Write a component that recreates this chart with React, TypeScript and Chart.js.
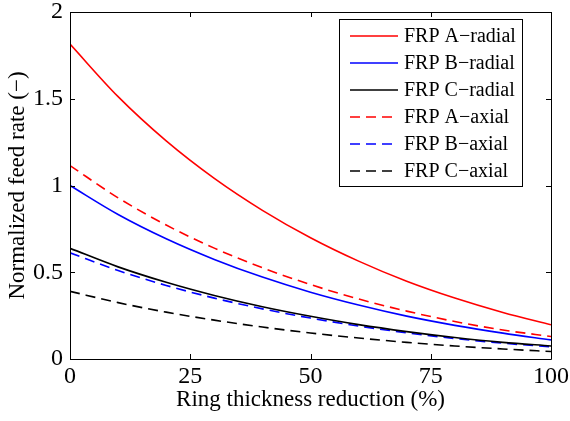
import React, { useEffect, useRef } from "react";
import { Chart, registerables } from "chart.js";

Chart.register(...registerables);

// ---- data ----
const reduction = [0, 10, 20, 30, 40, 50, 60, 70, 80, 90, 100];
const frpARadial = [1.815, 1.512, 1.257, 1.041, 0.857, 0.699, 0.564, 0.448, 0.351, 0.268, 0.197];
const frpBRadial = [1.0, 0.833, 0.693, 0.574, 0.472, 0.385, 0.311, 0.247, 0.194, 0.149, 0.11];
const frpCRadial = [0.638, 0.531, 0.442, 0.366, 0.301, 0.246, 0.198, 0.158, 0.124, 0.096, 0.075];
const frpAAxial = [1.115, 0.929, 0.772, 0.639, 0.526, 0.429, 0.346, 0.276, 0.216, 0.167, 0.13];
const frpBAxial = [0.612, 0.51, 0.424, 0.351, 0.289, 0.236, 0.19, 0.151, 0.118, 0.091, 0.07];
const frpCAxial = [0.39, 0.325, 0.27, 0.224, 0.184, 0.15, 0.121, 0.096, 0.075, 0.058, 0.043];

const seriesLabels = [
  "FRP A\u2212radial",
  "FRP B\u2212radial",
  "FRP C\u2212radial",
  "FRP A\u2212axial",
  "FRP B\u2212axial",
  "FRP C\u2212axial",
];
const xTickValues = [0, 25, 50, 75, 100];
const yTickValues = [0, 0.5, 1, 1.5, 2];
const yTickLabels = ["0", "0.5", "1", "1.5", "2"];
const xTitle = "Ring thickness reduction (%)";
const yTitle = "Normalized feed rate (\u2212)";

const FONT = '"Liberation Serif", "Times New Roman", serif';
const DASH = [10, 6];

const framePlugin = {
  id: "frameTicks",
  afterDraw(chart: any) {
    const ctx = chart.ctx;
    const { left, right, top, bottom } = chart.chartArea;
    const xs = chart.scales.x;
    const ys = chart.scales.y;
    const tl = 5;
    ctx.save();
    ctx.strokeStyle = "#000";
    ctx.lineWidth = 1;
    ctx.beginPath();
    ctx.rect(Math.round(left) + 0.5, Math.round(top) + 0.5, Math.round(right - left), Math.round(bottom - top));
    ctx.stroke();
    ctx.beginPath();
    xTickValues.forEach((v) => {
      const px = Math.round(xs.getPixelForValue(v)) + 0.5;
      ctx.moveTo(px, bottom);
      ctx.lineTo(px, bottom - tl);
      ctx.moveTo(px, top);
      ctx.lineTo(px, top + tl);
    });
    yTickValues.forEach((v) => {
      const py = Math.round(ys.getPixelForValue(v)) + 0.5;
      ctx.moveTo(left, py);
      ctx.lineTo(left + tl, py);
      ctx.moveTo(right, py);
      ctx.lineTo(right - tl, py);
    });
    ctx.stroke();
    ctx.restore();
  },
};

const legendPlugin = {
  id: "boxLegend",
  afterDraw(chart: any) {
    const ctx = chart.ctx;
    const { right, top } = chart.chartArea;
    const boxRight = right - 29;
    const boxLeft = boxRight - 183;
    const boxTop = top + 7;
    const rowH = 27;
    const n = chart.data.datasets.length;
    const boxH = 5 + rowH * n;
    ctx.save();
    ctx.fillStyle = "#fff";
    ctx.fillRect(boxLeft, boxTop, boxRight - boxLeft, boxH);
    ctx.strokeStyle = "#000";
    ctx.lineWidth = 1;
    ctx.strokeRect(Math.round(boxLeft) + 0.5, Math.round(boxTop) + 0.5, Math.round(boxRight - boxLeft), Math.round(boxH));
    ctx.font = `20px ${FONT}`;
    ctx.textBaseline = "middle";
    ctx.textAlign = "left";
    chart.data.datasets.forEach((ds: any, i: number) => {
      const y = boxTop + 17 + i * rowH;
      ctx.strokeStyle = ds.borderColor;
      ctx.lineWidth = ds.borderWidth;
      ctx.setLineDash(ds.borderDash || []);
      ctx.beginPath();
      ctx.moveTo(boxLeft + 11, y);
      ctx.lineTo(boxLeft + 59, y);
      ctx.stroke();
      ctx.setLineDash([]);
      ctx.fillStyle = "#000";
      ctx.fillText(ds.label, boxLeft + 65, y + 1);
    });
    ctx.restore();
  },
};

export default function App() {
  const ref = useRef<HTMLCanvasElement | null>(null);

  useEffect(() => {
    if (!ref.current) return;
    const mk = (label: string, values: number[], color: string, dashed: boolean) => ({
      label,
      data: reduction.map((x, i) => ({ x, y: values[i] })),
      borderColor: color,
      backgroundColor: color,
      borderWidth: 1.6,
      borderDash: dashed ? DASH : [],
      pointRadius: 0,
      cubicInterpolationMode: "monotone" as const,
      fill: false,
    });
    const chart = new Chart(ref.current, {
      type: "line",
      data: {
        datasets: [
          mk(seriesLabels[0], frpARadial, "#ff0000", false),
          mk(seriesLabels[1], frpBRadial, "#0000ff", false),
          mk(seriesLabels[2], frpCRadial, "#000000", false),
          mk(seriesLabels[3], frpAAxial, "#ff0000", true),
          mk(seriesLabels[4], frpBAxial, "#0000ff", true),
          mk(seriesLabels[5], frpCAxial, "#000000", true),
        ],
      },
      options: {
        responsive: false,
        animation: false,
        devicePixelRatio: 1,
        layout: { padding: { left: 0, top: 12, right: 19, bottom: 0 } },
        plugins: { legend: { display: false }, tooltip: { enabled: false } },
        scales: {
          x: {
            type: "linear",
            min: 0,
            max: 100,
            afterBuildTicks: (s: any) => {
              s.ticks = xTickValues.map((v) => ({ value: v }));
            },
            afterFit: (s: any) => {
              s.height = 62;
              s.paddingLeft = 0;
              s.paddingRight = 0;
            },
            ticks: {
              color: "#000",
              font: { family: FONT, size: 24 },
              padding: 3,
              maxRotation: 0,
              autoSkip: false,
            },
            grid: { display: false, drawTicks: false },
            border: { display: false },
            title: {
              display: true,
              text: xTitle,
              color: "#000",
              font: { family: FONT, size: 23 },
              padding: { top: 0, bottom: 7 },
            },
          },
          y: {
            type: "linear",
            min: 0,
            max: 2,
            afterBuildTicks: (s: any) => {
              s.ticks = yTickValues.map((v) => ({ value: v }));
            },
            afterFit: (s: any) => {
              s.width = 70;
              s.paddingTop = 0;
              s.paddingBottom = 0;
            },
            ticks: {
              color: "#000",
              font: { family: FONT, size: 24 },
              padding: 7,
              autoSkip: false,
              callback: (v: any) => {
                const i = yTickValues.indexOf(Number(v));
                return i >= 0 ? yTickLabels[i] : "";
              },
            },
            grid: { display: false, drawTicks: false },
            border: { display: false },
            title: {
              display: true,
              text: yTitle,
              color: "#000",
              font: { family: FONT, size: 23 },
              padding: { top: 4, bottom: 0 },
            },
          },
        },
      },
      plugins: [framePlugin, legendPlugin],
    });
    return () => chart.destroy();
  }, []);

  return (
    <div style={{ position: "absolute", left: 0, top: 0, width: 570, height: 421, background: "#fff" }}>
      <canvas ref={ref} width={570} height={421} style={{ display: "block" }} />
    </div>
  );
}
